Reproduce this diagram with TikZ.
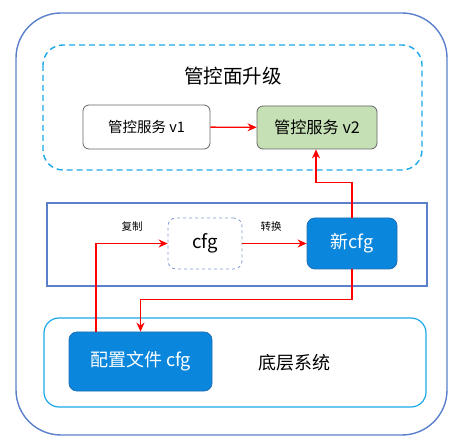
\documentclass[tikz,border=0pt]{standalone}
\usepackage{fontspec}
\setmainfont{Noto Sans CJK SC}
\usetikzlibrary{arrows.meta}
\definecolor{outerblue}{HTML}{5A7FCC}
\definecolor{cyanline}{HTML}{1BA7E8}
\definecolor{midblue}{HTML}{5B7FC9}
\definecolor{fillblue}{HTML}{0A87DC}
\definecolor{boxblue}{HTML}{1F6FB5}
\definecolor{greenfill}{HTML}{C6E0B5}
\definecolor{dashgray}{HTML}{7D9BD0}
\tikzset{
  x=1pt,y=-1pt,
  svc/.style={draw=black!60,rounded corners=6pt,line width=0.8pt,align=center,inner sep=0pt},
  bluebox/.style={draw=boxblue,fill=fillblue,rounded corners=8pt,text=white,line width=0.8pt,inner sep=0pt},
  flow/.style={draw=red,line width=1.4pt,-{Stealth[length=9pt,width=8pt]}},
  lbl/.style={font=\fontsize{10.5}{12}\selectfont,inner sep=0pt}
}
\begin{document}
\begin{tikzpicture}
\useasboundingbox (0,0) rectangle (466,446);
% outer
\draw[outerblue,line width=1.4pt,rounded corners=45pt] (16,13) rectangle (447,435);
% top dashed region
\draw[cyanline,line width=1.4pt,dash pattern=on 6pt off 4pt,rounded corners=20pt] (43,45) rectangle (422,170);
\node[font=\fontsize{19.5}{23}\selectfont] (title) at (233,76) {管控面升级};
\node[svc,fill=white,minimum width=127pt,minimum height=44pt,font=\fontsize{14.5}{17}\selectfont] (v1) at (146.5,127) {管控服务 v1};
\node[svc,fill=greenfill,minimum width=120pt,minimum height=43pt,font=\fontsize{16.2}{19}\selectfont] (v2) at (317,127.5) {管控服务 v2};
% middle rect
\draw[midblue,line width=1.2pt] (47,203) rectangle (427,286);
\node[draw=dashgray,dashed,rounded corners=8pt,line width=0.8pt,minimum width=74pt,minimum height=51pt,inner sep=0pt,font=\fontsize{18.5}{21}\selectfont] (cfg) at (205,243.5) {cfg};
\node[bluebox,minimum width=90pt,minimum height=51pt,font=\fontsize{18}{21}\selectfont] (ncfg) at (352,243.5) {新cfg};
\node[lbl] (copy) at (132,227) {复制};
\node[lbl] (conv) at (271,227) {转换};
% bottom region
\draw[cyanline,line width=1.2pt,rounded corners=15pt] (44,318) rectangle (426,407);
\node[bluebox,minimum width=143pt,minimum height=59pt,font=\fontsize{18}{21}\selectfont] (file) at (140.5,361.5) {配置文件 cfg};
\node[font=\fontsize{18}{21}\selectfont] (base) at (294,363) {底层系统};
% connectors
\draw[flow] (v1) -- (v2);
\draw[flow] ([xshift=-44.5pt]file.north) |- (cfg.west);
\draw[flow] (cfg) -- (ncfg);
\draw[flow] (ncfg.north) -- ++(0,-35) -| ([xshift=-1pt]v2.south);
\draw[flow] (ncfg.south) -- ++(0,30) -| (file.north);
\end{tikzpicture}
\end{document}
